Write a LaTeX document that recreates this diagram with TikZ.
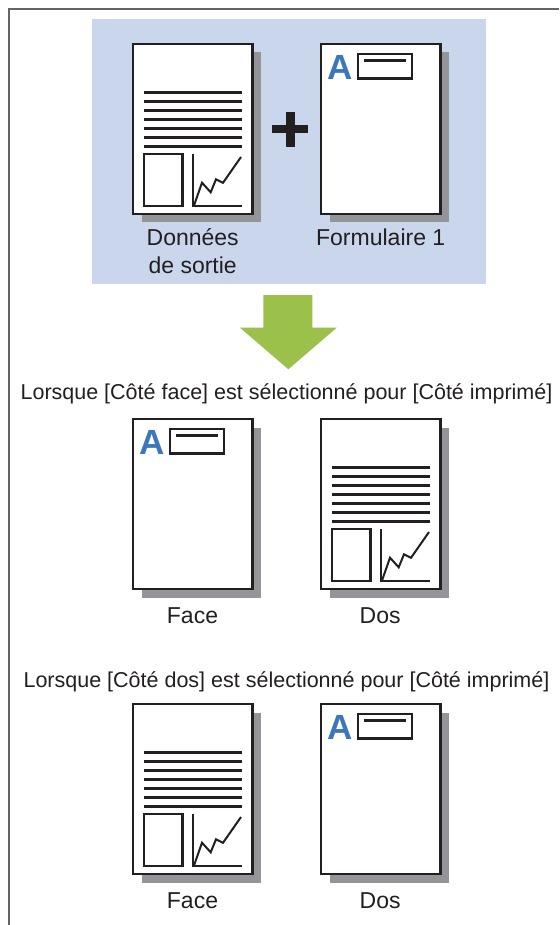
\documentclass[tikz,border=0pt]{standalone}
\usepackage{fontspec}
\setmainfont{Liberation Sans}
\definecolor{bluebg}{RGB}{201,214,236}
\definecolor{shadowgray}{RGB}{147,149,152}
\definecolor{arrowgreen}{RGB}{155,193,74}
\definecolor{letterblue}{RGB}{59,119,186}
\definecolor{ink}{RGB}{35,31,32}
\definecolor{framegray}{RGB}{100,100,100}
\tikzset{
 pageshadow/.style={fill=shadowgray, draw=none},
 pagesheet/.style={fill=white, draw=ink, line width=2.5pt},
 inkline/.style={draw=ink, line width=2.5pt},
 chartline/.style={draw=ink, line width=2pt, line join=miter},
 captiontext/.style={font=\fontsize{23}{27.3}\selectfont, text=ink, inner sep=0pt, anchor=base},
 headtext/.style={font=\fontsize{21.5}{25}\selectfont, text=ink, inner sep=0pt, anchor=base},
 bigA/.style={font=\fontsize{35}{35}\selectfont\bfseries, text=letterblue, inner sep=0pt, anchor=base west},
 sheet/.pic={
   \fill[pageshadow] (8.5,8.5) rectangle (128,178.5);
   \path[pagesheet] (0,0) rectangle (119.5,170);
 },
 docpage/.pic={
   \pic {sheet};
   \foreach \i in {0,...,6} \draw[inkline] (11,48.5+9*\i) -- (108.5,48.5+9*\i);
   \draw[inkline] (11,110) rectangle (49.5,162);
   \draw[chartline] (59.5,110) -- (59.5,162) -- (108.5,162);
   \draw[chartline] (61,161.5) -- (69,138.7) -- (77.7,148.3) -- (83,135.3) -- (90,138.8) -- (108,113);
 },
 formpage/.pic={
   \pic {sheet};
   \node[bigA] (-a) at (6,35.5) {A};
   \draw[inkline] (37,10) rectangle (91,34.5);
   \draw[inkline] (43,16.5) -- (84.5,16.5);
 },
}
\begin{document}
\begin{tikzpicture}[x=1pt,y=-1pt]
\useasboundingbox (0,0) rectangle (559,925);
\fill[white] (0,0) rectangle (559,925);
% frame
\draw[framegray, line width=1.4pt] (559,9) -- (9,9) -- (9,925);
% top blue panel
\fill[bluebg] (92,19) rectangle (485.6,284.3);
\pic (donnees) at (133,44) {docpage};
\pic (form) at (321,44) {formpage};
% plus sign
\fill[ink] (272,125) rectangle (308,133);
\fill[ink] (285.5,112) rectangle (294.5,147);
\node[captiontext, align=center] (lbl-donnees) at (192.7,273) {Données\\de sortie};
\node[captiontext] (lbl-form) at (380.7,245.7) {Formulaire 1};
% green arrow
\fill[arrowgreen] (263.3,295) -- (312.3,295) -- (312.3,327.7) -- (336.7,327.7) -- (288.3,369.3) -- (240,327.7) -- (263.3,327.7) -- cycle;
% section 2
\node[headtext] (head1) at (286.5,399.3) {Lorsque [Côté face] est sélectionné pour [Côté imprimé]};
\pic (face1) at (133,419) {formpage};
\pic (dos1) at (321,419) {docpage};
\node[captiontext] (lbl-face1) at (192.5,623.3) {Face};
\node[captiontext] (lbl-dos1) at (380.1,623.3) {Dos};
% section 3
\node[headtext] (head2) at (286.5,687.3) {Lorsque [Côté dos] est sélectionné pour [Côté imprimé]};
\pic (face2) at (133,704) {docpage};
\pic (dos2) at (321,704) {formpage};
\node[captiontext] (lbl-face2) at (192.5,908.3) {Face};
\node[captiontext] (lbl-dos2) at (380.1,908.3) {Dos};
\end{tikzpicture}
\end{document}
